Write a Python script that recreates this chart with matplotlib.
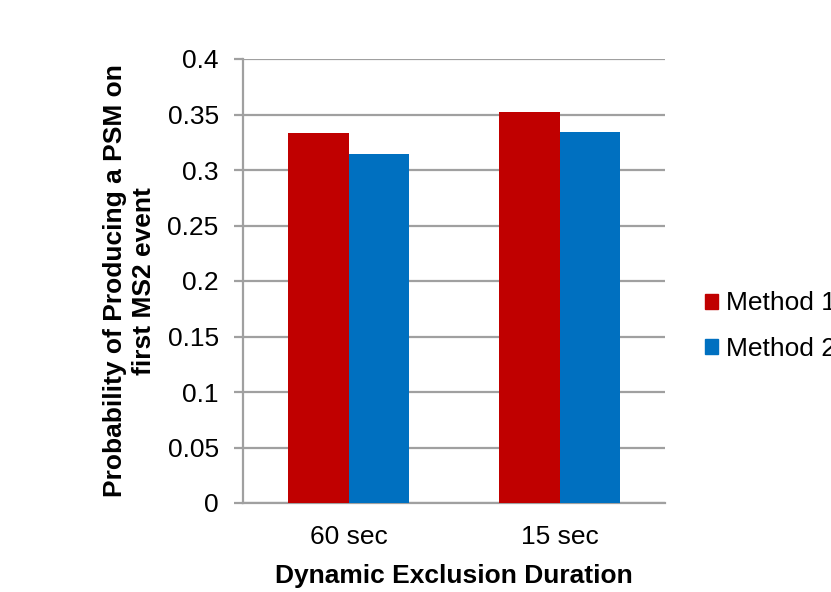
import numpy as np
import matplotlib.pyplot as plt
from matplotlib.patches import Patch

plt.rcParams['font.family'] = ['Liberation Sans', 'DejaVu Sans']

durations = ["60 sec", "15 sec"]
method1 = [0.333, 0.352]
method2 = [0.314, 0.334]
series_names = ["Method 1", "Method 2"]
yticks = [0, 0.05, 0.1, 0.15, 0.2, 0.25, 0.3, 0.35, 0.4]
ytick_labels = ["0", "0.05", "0.1", "0.15", "0.2", "0.25", "0.3", "0.35", "0.4"]

RED = "#C00000"
BLUE = "#0070C0"
GRID = "#A0A0A0"

fig = plt.figure(figsize=(8.31, 5.92), dpi=100)
ax = fig.add_axes([243 / 831, 1 - 503 / 592, 422 / 831, 444 / 592])

x = np.arange(len(durations))
width = 0.285
ax.bar(x - width / 2, method1, width, color=RED, zorder=3)
ax.bar(x + width / 2, method2, width, color=BLUE, zorder=3)

ax.set_xlim(-0.5, 1.5)
ax.set_ylim(0, 0.4)
ax.set_yticks(yticks)
ax.set_yticklabels(ytick_labels)
ax.set_xticks(x)
ax.set_xticklabels(durations)

ax.yaxis.grid(True, color=GRID, linewidth=1.6, zorder=0)
for side in ("top", "right"):
    ax.spines[side].set_visible(False)
ax.spines["bottom"].set_color(GRID)
ax.spines["bottom"].set_linewidth(1.6)
ax.spines["left"].set_color(GRID)
ax.spines["left"].set_linewidth(1.6)

ax.tick_params(axis="y", labelsize=19, length=6.5, width=1.6, color=GRID, pad=11)
ax.tick_params(axis="x", labelsize=19, length=0, pad=16)

ax.set_xlabel("Dynamic Exclusion Duration", fontsize=19, fontweight="bold", labelpad=11)
ax.set_ylabel("Probability of Producing a PSM on\nfirst MS2 event", fontsize=19,
              fontweight="bold", labelpad=8, linespacing=1.3)

handles = [Patch(color=RED), Patch(color=BLUE)]
fig.legend(handles, series_names, loc="center left", bbox_to_anchor=(705 / 831, 1 - 326 / 592),
           frameon=False, fontsize=19, handlelength=0.5, handleheight=0.5,
           handletextpad=0.3, labelspacing=0.8, borderpad=0, borderaxespad=0)

fig.savefig("out.png", dpi=100)
